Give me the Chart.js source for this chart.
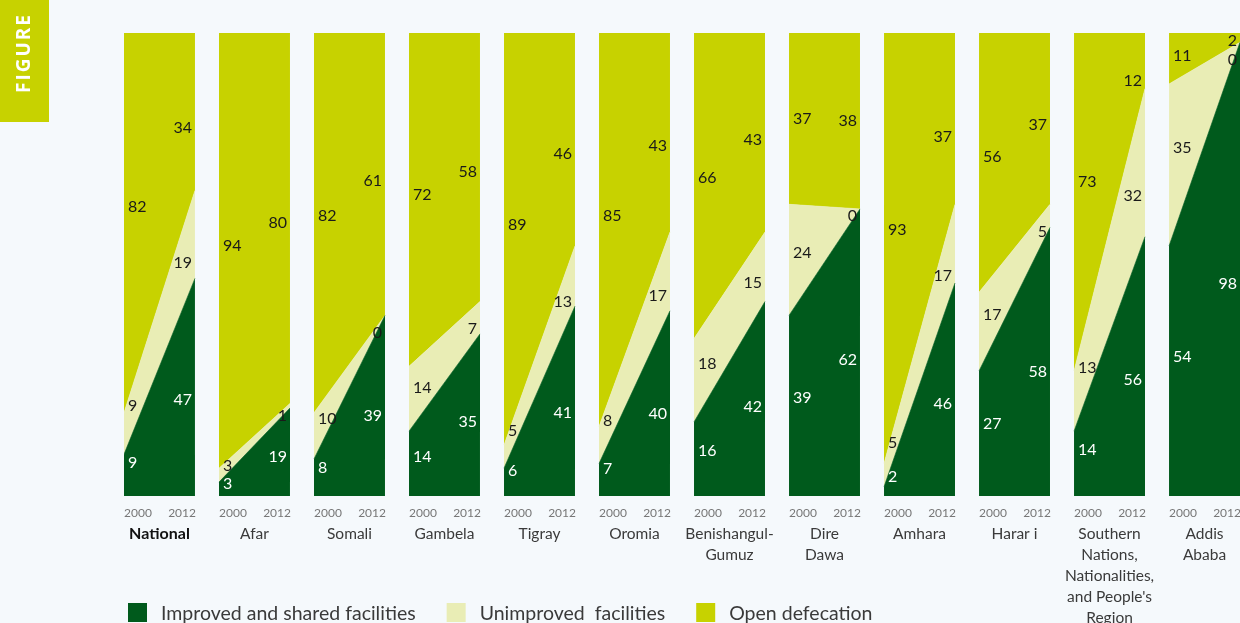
<!DOCTYPE html>
<html>
<head>
<meta charset="utf-8">
<script src="https://cdn.jsdelivr.net/npm/chart.js@4.4.1/dist/chart.umd.min.js"></script>
<style>
  html, body { margin: 0; padding: 0; background: #f5f9fc; overflow: hidden; }
  #wrap { position: relative; width: 1240px; height: 623px; }
  canvas { display: block; }
</style>
</head>
<body>
<div id="wrap"><canvas id="c"></canvas></div>
<script>
// ---- data ----
const regions = [
  ["National"], ["Afar"], ["Somali"], ["Gambela"], ["Tigray"], ["Oromia"],
  ["Benishangul-", "Gumuz"], ["Dire", "Dawa"], ["Amhara"], ["Harar i"],
  ["Southern", "Nations,", "Nationalities,", "and People's", "Region"],
  ["Addis", "Ababa"]
];
const years = ["2000", "2012"];
const seriesNames = ["Improved and shared facilities", "Unimproved  facilities", "Open defecation"];
const improved2000       = [9, 3, 8, 14, 6, 7, 16, 39, 2, 27, 14, 54];
const improved2012       = [47, 19, 39, 35, 41, 40, 42, 62, 46, 58, 56, 98];
const unimproved2000     = [9, 3, 10, 14, 5, 8, 18, 24, 5, 17, 13, 35];
const unimproved2012     = [19, 1, 0, 7, 13, 17, 15, 0, 17, 5, 32, 0];
const openDefecation2000 = [82, 94, 82, 72, 89, 85, 66, 37, 93, 56, 73, 11];
const openDefecation2012 = [34, 80, 61, 58, 46, 43, 43, 38, 37, 37, 12, 2];

// ---- styling ----
const colors = ["#005a1c", "#e9edb5", "#c7d200"];
const labelColors = ["#ffffff", "#1a1a1a", "#1a1a1a"];
const PANEL = 0.747; // panel width relative to panel pitch
const FONT = "Lato, 'Open Sans', sans-serif";

const series2000 = [improved2000, unimproved2000, openDefecation2000];
const series2012 = [improved2012, unimproved2012, openDefecation2012];

const datasets = [];
regions.forEach((r, i) => {
  for (let s = 0; s < 3; s++) {
    datasets.push({
      label: seriesNames[s],
      stack: "r" + i,
      data: [{ x: i, y: series2000[s][i] }, { x: i + PANEL, y: series2012[s][i] }],
      backgroundColor: colors[s],
      borderColor: colors[s],
      borderWidth: 0.6,
      pointRadius: 0,
      pointHoverRadius: 0,
      tension: 0,
      fill: s === 0 ? "origin" : "-1"
    });
  }
});

const annotate = {
  id: "annotate",
  afterDatasetsDraw(chart) {
    const ctx = chart.ctx;
    const xs = chart.scales.x, ys = chart.scales.y;
    ctx.save();
    regions.forEach((name, i) => {
      const xL = xs.getPixelForValue(i);
      const xR = xs.getPixelForValue(i + PANEL);
      const w = xR - xL;
      // value labels
      [0, 1].forEach(side => {
        const t = side === 0 ? 10 / w : 1 - 10 / w;
        let c0 = 0, c1 = 0;
        const pos = [];
        for (let s = 0; s < 3; s++) {
          const b = c0 + (c1 - c0) * t;
          c0 += series2000[s][i];
          c1 += series2012[s][i];
          const tp = c0 + (c1 - c0) * t;
          pos.push(ys.getPixelForValue((b + tp) / 2));
        }
        // keep labels apart (pos[2] top ... pos[0] bottom)
        for (let pass = 0; pass < 3; pass++) {
          for (let k = 2; k > 0; k--) {
            const gap = pos[k - 1] - pos[k];
            if (gap < 15) {
              const m = (pos[k - 1] + pos[k]) / 2;
              pos[k] = m - 7.5;
              pos[k - 1] = m + 7.5;
            }
          }
        }
        ctx.font = "16px " + FONT;
        ctx.textBaseline = "middle";
        for (let s = 0; s < 3; s++) {
          const v = (side === 0 ? series2000 : series2012)[s][i];
          ctx.fillStyle = labelColors[s];
          ctx.textAlign = side === 0 ? "left" : "right";
          ctx.fillText(String(v), side === 0 ? xL + 4 : xR - 3, pos[s]);
        }
      });
      // year ticks
      ctx.font = "12px " + FONT;
      ctx.fillStyle = "#777777";
      ctx.textBaseline = "middle";
      ctx.textAlign = "left";
      ctx.fillText(years[0], xL, 513);
      ctx.textAlign = "right";
      ctx.fillText(years[1], xR + 1, 513);
      // region names
      ctx.textAlign = "center";
      ctx.font = (i === 0 ? "bold 16px " : "15.5px ") + FONT;
      ctx.fillStyle = i === 0 ? "#111111" : "#3a3a3a";
      name.forEach((line, k) => ctx.fillText(line, (xL + xR) / 2, 534 + k * 21));
    });

    // legend
    ctx.font = "19.5px " + FONT;
    ctx.textAlign = "left";
    ctx.textBaseline = "alphabetic";
    let lx = 128;
    seriesNames.forEach((n, s) => {
      ctx.fillStyle = colors[s];
      ctx.fillRect(lx, 603, 19, 19);
      ctx.fillStyle = "#3a3a3a";
      ctx.fillText(n, lx + 33, 620);
      lx += 33 + ctx.measureText(n).width + 31;
    });

    // FIGURE tab
    ctx.fillStyle = "#c7d200";
    ctx.fillRect(0, 0, 49, 122);
    ctx.translate(25, 53);
    ctx.rotate(-Math.PI / 2);
    ctx.fillStyle = "#ffffff";
    ctx.font = "bold 19px 'Open Sans', sans-serif";
    try { ctx.letterSpacing = "2px"; } catch (e) {}
    ctx.textAlign = "center";
    ctx.textBaseline = "middle";
    ctx.fillText("FIGURE", 0, 0);
    ctx.restore();
  }
};

new Chart(document.getElementById("c"), {
  type: "line",
  data: { datasets },
  options: {
    responsive: true,
    maintainAspectRatio: false,
    animation: false,
    layout: { padding: { left: 124, top: 33, right: 0, bottom: 127 } },
    plugins: { legend: { display: false }, tooltip: { enabled: false } },
    scales: {
      x: { type: "linear", min: 0, max: 11 + PANEL, display: false },
      y: { stacked: true, min: 0, max: 100, display: false }
    }
  },
  plugins: [annotate]
});
</script>
</body>
</html>
